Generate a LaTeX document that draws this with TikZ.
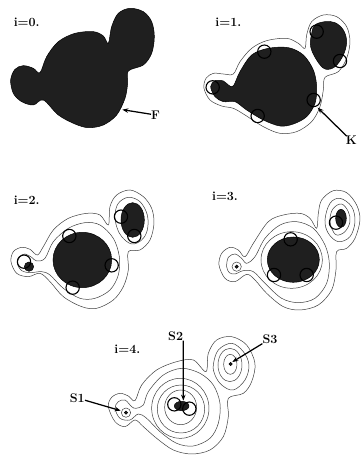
\documentclass[tikz,border=0pt]{standalone}
\usetikzlibrary{arrows.meta}
\tikzset{
  blob/.style={fill=black!88,draw=black,line width=0.5pt},
  contourline/.style={draw=black!75,line width=0.5pt},
  probe/.style={draw=black,line width=1.1pt},
  pointer/.style={draw=black,line width=1.25pt,-{Stealth[length=6pt,width=4.5pt]}},
  lbl/.style={font=\fontsize{12.5}{14}\selectfont\bfseries,inner sep=0pt},
  panel/.style={x=0.3333pt,y=-0.3333pt}
}
\begin{document}
\begin{tikzpicture}[x=1pt,y=-1pt]
\useasboundingbox (0,0) rectangle (361,455);
\fill[white] (0,0) rectangle (361,455);
% i=0
\begin{scope}[shift={(0,0)},panel]
\draw[blob] plot[smooth cycle,tension=0.55] coordinates {(120,218)(140,170)(175,125)(225,100)(280,95)(310,108)(325,130)(335,80)(355,40)(390,25)(430,35)(455,65)(463,110)(455,160)(430,195)(385,213)(383,250)(375,295)(350,345)(310,375)(265,383)(225,372)(175,345)(130,300)(100,315)(65,305)(40,280)(32,240)(45,208)(70,197)(100,205)};
\node[lbl] (l0) at (80,66) {i=0.};
\node[lbl] (F) at (467,345) {F};
\coordinate (fEnd) at (367,329);
\draw[pointer] (F) -- (fEnd);
\end{scope}
% i=1
\begin{scope}[shift={(190,0)},panel]
\draw[contourline] plot[smooth cycle,tension=0.55] coordinates {(130,222)(150,185)(185,145)(230,122)(290,115)(325,130)(345,145)(350,105)(365,65)(400,45)(440,50)(470,80)(480,125)(470,175)(445,215)(405,232)(400,270)(390,320)(365,365)(320,395)(270,400)(220,380)(165,345)(130,325)(95,318)(60,300)(42,265)(48,235)(70,220)(100,222)};
\draw[blob] plot[smooth cycle,tension=0.55] coordinates {(130,258)(150,215)(185,165)(235,145)(295,143)(340,165)(370,210)(380,260)(375,310)(350,350)(310,372)(270,378)(220,360)(170,330)(135,305)(100,305)(75,290)(62,260)(75,242)(100,243)(115,255)};
\draw[blob] plot[smooth cycle,tension=0.6] coordinates {(405,65)(375,75)(365,100)(362,140)(380,180)(405,207)(435,200)(460,165)(470,125)(460,90)(435,68)};
\foreach \p in {(223,155),(380,95),(450,183),(68,262),(203,348),(371,300)} \draw[probe] \p circle (20);
\node[lbl] (l1) at (115,66) {i=1.};
\node[lbl] (K) at (484,422) {K};
\coordinate (kEnd) at (383,323);
\draw[pointer] (K) -- (kEnd);
\end{scope}
% i=2
\begin{scope}[shift={(0,150)},panel]
\draw[contourline] plot[smooth cycle,tension=0.55] coordinates {(33,335)(40,305)(65,292)(90,298)(112,315)(130,290)(160,240)(205,205)(260,190)(300,195)(325,225)(330,170)(350,135)(390,120)(430,140)(455,175)(462,220)(450,270)(420,300)(385,305)(385,360)(370,410)(340,450)(290,475)(245,470)(190,440)(150,395)(120,370)(85,380)(50,370)};
\draw[contourline] plot[smooth cycle,tension=0.55] coordinates {(52,340)(60,320)(75,312)(95,322)(110,333)(135,325)(160,275)(205,235)(255,218)(300,225)(340,265)(358,320)(355,375)(330,420)(285,445)(240,445)(190,415)(150,375)(125,365)(90,368)(65,362)};
\draw[contourline] plot[smooth cycle,tension=0.6] coordinates {(345,195)(355,160)(385,142)(420,155)(442,195)(442,240)(425,270)(395,282)(365,260)(350,230)};
\draw[blob] (247,330) ellipse [x radius=88,y radius=83];
\draw[blob] (87,350) circle (14);
\draw[blob] (398,210) ellipse [x radius=35,y radius=52];
\foreach \p in {(208,258),(335,346),(218,413),(72,335),(363,200),(403,258)} \draw[probe] \p circle (20);
\node[lbl] (l2) at (80,150) {i=2.};
\end{scope}
% i=3
\begin{scope}[shift={(200,150)},panel]
\draw[contourline] plot[smooth cycle,tension=0.55] coordinates {(57,345)(65,310)(90,292)(115,300)(135,320)(160,280)(205,215)(250,195)(300,190)(330,205)(350,235)(355,190)(365,150)(400,122)(440,128)(470,165)(480,210)(465,265)(440,295)(410,305)(408,360)(395,420)(355,465)(300,480)(250,470)(200,430)(165,390)(140,373)(105,395)(75,385)};
\draw[contourline] plot[smooth cycle,tension=0.55] coordinates {(80,350)(85,322)(105,312)(125,325)(140,340)(165,320)(195,265)(240,225)(290,215)(340,235)(375,285)(388,340)(380,400)(345,445)(295,458)(245,445)(195,400)(160,365)(130,362)(105,372)(88,368)};
\draw[contourline] (275,330) ellipse [x radius=92,y radius=85];
\draw[contourline] plot[smooth cycle,tension=0.6] coordinates {(375,210)(390,160)(420,145)(455,170)(465,215)(450,260)(415,275)(385,250)};
\draw[contourline] plot[smooth cycle,tension=0.6] coordinates {(390,205)(400,175)(425,162)(445,185)(450,215)(435,245)(410,255)(395,235)};
\draw[blob] (280,329) ellipse [x radius=78,y radius=68];
\draw[blob] (423,205) ellipse [x radius=16,y radius=27];
\draw[contourline] (110,350) circle (14);
\draw[blob] (110,350) circle (5);
\foreach \p in {(272,268),(222,375),(320,375),(408,218)} \draw[probe] \p circle (20);
\node[lbl] (l3) at (75,140) {i=3.};
\end{scope}
% i=4
\begin{scope}[shift={(50,310)},panel]
\draw[contourline] plot[smooth cycle,tension=0.55] coordinates {(175,290)(185,262)(210,250)(235,258)(255,272)(275,225)(320,180)(380,155)(430,150)(468,185)(475,130)(500,90)(545,80)(590,105)(615,160)(605,215)(580,250)(535,265)(535,320)(520,380)(480,420)(425,432)(370,420)(320,385)(280,350)(255,330)(225,350)(195,335)};
\draw[contourline] plot[smooth cycle,tension=0.55] coordinates {(195,295)(205,275)(225,270)(245,290)(258,295)(280,285)(295,245)(340,195)(395,175)(450,190)(490,225)(510,280)(505,340)(480,385)(430,408)(380,400)(330,365)(290,325)(265,312)(240,330)(210,325)};
\draw[contourline] plot[smooth cycle,tension=0.6] coordinates {(490,165)(505,120)(545,100)(580,125)(597,165)(585,210)(550,240)(515,225)(495,195)};
\draw[contourline] (540,165) ellipse [x radius=36,y radius=50];
\draw[contourline] (541,163) ellipse [x radius=20,y radius=30];
\draw[contourline] (391,295) ellipse [x radius=86,y radius=90];
\draw[contourline] (393,297) ellipse [x radius=71,y radius=72];
\draw[contourline] (392,292) ellipse [x radius=48,y radius=52];
\draw[contourline] (228,308) circle (14);
\draw[blob] (228,308) circle (5);
\draw[blob] (542,162) circle (5);
\draw[blob] (395,288) ellipse [x radius=22,y radius=14];
\foreach \p in {(373,283),(418,296)} \draw[probe] \p circle (20);
\node[lbl] (l4) at (232,117) {i=4.};
\node[lbl] (S1) at (82,264) {S1};
\node[lbl] (S2) at (377,78) {S2};
\node[lbl] (S3) at (660,87) {S3};
\coordinate (s1End) at (212,302);
\coordinate (s2End) at (400,272);
\coordinate (s3End) at (547,156);
\draw[pointer] (S1) -- (s1End);
\draw[pointer] (S2.south east) -- (s2End);
\draw[pointer] (S3) -- (s3End);
\end{scope}
\end{tikzpicture}
\end{document}
